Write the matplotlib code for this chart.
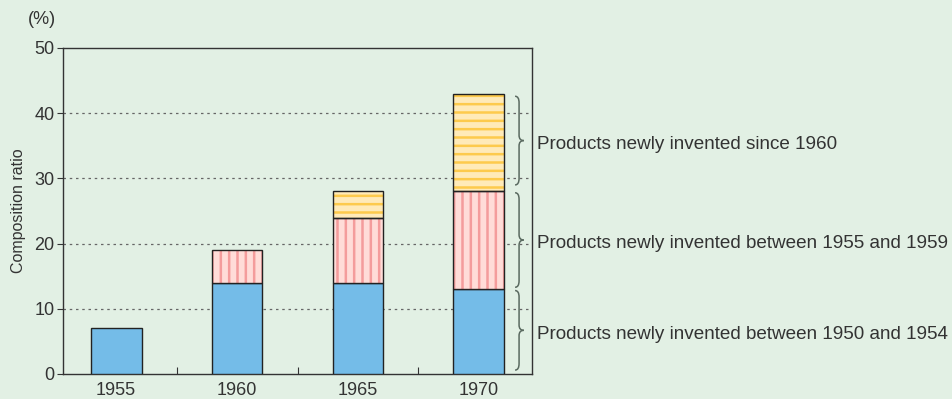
import matplotlib
matplotlib.use("Agg")
import matplotlib.pyplot as plt
from matplotlib.path import Path
from matplotlib.patches import PathPatch

years = ["1955", "1960", "1965", "1970"]
since_1950 = [7, 14, 14, 13]
since_1955 = [0, 5, 10, 15]
since_1960 = [0, 0, 4, 15]
labels = [
    "Products newly invented between 1950 and 1954",
    "Products newly invented between 1955 and 1959",
    "Products newly invented since 1960",
]

bg = "#e2f0e4"
blue = "#74bce8"
pink_bg, pink_line = "#ffdcd8", "#f49c9c"
yel_bg, yel_line = "#ffeab8", "#fdca4c"
ink = "#333333"

plt.rcParams["font.family"] = ["Liberation Sans", "DejaVu Sans"]
plt.rcParams["hatch.linewidth"] = 1.8

fig = plt.figure(figsize=(9.53, 3.99), dpi=100, facecolor=bg)
ax = fig.add_axes([63 / 953, 1 - 374 / 399, 469 / 953, 326 / 399])
ax.set_facecolor(bg)

x = range(len(years))
w = 0.42
ax.bar(x, since_1950, w, color=blue, edgecolor="#222222", linewidth=1, zorder=3)

bottom2 = since_1950
bottom3 = [a + b for a, b in zip(since_1950, since_1955)]
ax.bar(x, since_1955, w, bottom=bottom2, color=pink_bg, edgecolor=pink_line,
       hatch="||", linewidth=0, zorder=3)
ax.bar(x, since_1960, w, bottom=bottom3, color=yel_bg, edgecolor=yel_line,
       hatch="--", linewidth=0, zorder=3)
# black outlines on top of the hatched segments
for vals, bots in [(since_1955, bottom2), (since_1960, bottom3)]:
    for i in x:
        if vals[i] > 0:
            ax.bar(i, vals[i], w, bottom=bots[i], facecolor="none",
                   edgecolor="#222222", linewidth=1, zorder=4)

ax.set_xlim(-0.44, 3.44)
ax.set_ylim(0, 50)
ax.set_yticks(range(0, 51, 10))
ax.set_xticks([0.5, 1.5, 2.5])
ax.set_xticklabels([])
ax.tick_params(axis="x", direction="in", length=5, color=ink)
ax.tick_params(axis="y", direction="out", length=4, color=ink,
               labelsize=13, labelcolor=ink, pad=2)
for i, yr in enumerate(years):
    ax.text(i, -1.3, yr, ha="center", va="top", fontsize=13, color=ink)
for s in ax.spines.values():
    s.set_color(ink)
    s.set_linewidth(1)
for yv in range(10, 50, 10):
    ax.axhline(yv, color="#666666", linestyle=(0, (2, 3)), linewidth=0.9, zorder=1)

ax.set_ylabel("Composition ratio", fontsize=11.5, color=ink, labelpad=6)
fig.text(42 / 953, 1 - 19 / 399, "(%)", ha="center", va="center",
         fontsize=13, color=ink)


def brace(ax, xb, y0, y1, d=0.033):
    # curly brace opening to the left, tip pointing right
    ym = (y0 + y1) / 2
    halves = [
        [(xb, y0), (xb + d, y0), (xb + d, y0 + 1.0),
         (xb + d, ym - 0.8), (xb + d, ym), (xb + 2.2 * d, ym)],
        [(xb, y1), (xb + d, y1), (xb + d, y1 - 1.0),
         (xb + d, ym + 0.8), (xb + d, ym), (xb + 2.2 * d, ym)],
    ]
    codes = [Path.MOVETO, Path.CURVE3, Path.CURVE3, Path.LINETO,
             Path.CURVE3, Path.CURVE3]
    for verts in halves:
        ax.add_patch(PathPatch(Path(verts, codes), facecolor="none",
                               edgecolor="#5a6a60", linewidth=1.1, zorder=5,
                               clip_on=False))


xb = 3.30
spans = [(0.6, 12.8), (13.3, 27.8), (29.0, 42.6)]
for (y0, y1), lab in zip(spans, labels):
    brace(ax, xb, y0, y1)
    ax.text(3.485, (y0 + y1) / 2 - 0.6, lab, ha="left", va="center",
            fontsize=13.6, color=ink, clip_on=False)

fig.savefig("out.png", dpi=100, facecolor=bg)
